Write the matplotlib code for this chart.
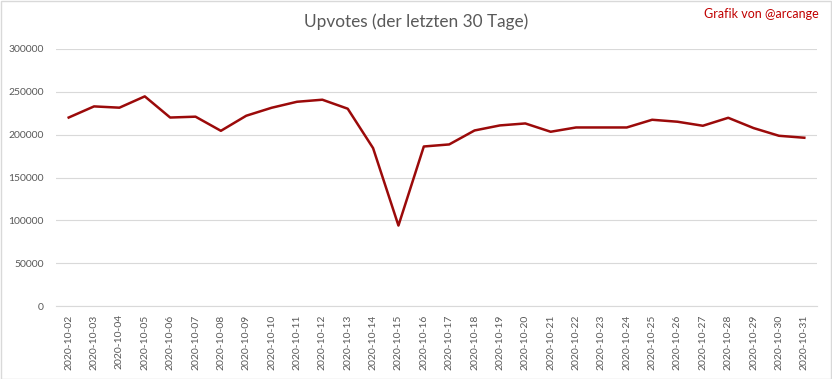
import matplotlib
matplotlib.use("Agg")
import matplotlib.pyplot as plt
from matplotlib.patches import Rectangle

dates = [f"2020-10-{d:02d}" for d in range(2, 32)]
upvotes = [220000, 233000, 231500, 244700, 220000, 221000, 204500, 222100,
           231400, 238400, 240800, 230300, 184300, 93900, 186200, 188600,
           204900, 210800, 213100, 203400, 208400, 208400, 208400, 217400,
           215100, 210400, 219700, 207700, 198700, 196400]
yticks = [0, 50000, 100000, 150000, 200000, 250000, 300000]

plt.rcParams['font.family'] = ['Lato', 'DejaVu Sans']

W, H = 832, 379
fig = plt.figure(figsize=(W / 100, H / 100), dpi=100)
ax = fig.add_axes([56 / W, 1 - 306 / H, (817 - 56) / W, (306 - 49) / H])

x = list(range(len(dates)))
ax.plot(x, upvotes, color='#9b0a0a', lw=1.8, solid_joinstyle='round', zorder=3)
ax.set_xlim(-0.5, len(dates) - 0.5)
ax.set_ylim(0, 300000)
ax.set_yticks(yticks)
ax.set_yticklabels([str(v) for v in yticks])
ax.set_xticks(x)
ax.set_xticklabels(dates, rotation=90)
ax.tick_params(axis='both', length=0, labelsize=7.5, labelcolor='#595959')
ax.tick_params(axis='y', pad=9)
ax.tick_params(axis='x', pad=6)
ax.grid(axis='y', color='#d9d9d9', lw=0.8)
ax.set_axisbelow(True)
for s in ['top', 'right', 'left']:
    ax.spines[s].set_visible(False)
ax.spines['bottom'].set_color('#d9d9d9')
ax.spines['bottom'].set_linewidth(0.8)

fig.text(416 / W, 1 - 22 / H, "Upvotes (der letzten 30 Tage)", ha='center', va='center',
         fontsize=12.4, color='#595959')
fig.text(819 / W, 1 - 14 / H, "Grafik von @arcange", ha='right', va='center',
         fontsize=9, color='#c00000')

fig.patches.append(Rectangle((0.5 / W, 0.5 / H), 1 - 1.5 / W, 1 - 1.5 / H,
                             transform=fig.transFigure, fill=False,
                             edgecolor='#d9d9d9', lw=1))
fig.savefig("out.png", dpi=100, facecolor='white')
